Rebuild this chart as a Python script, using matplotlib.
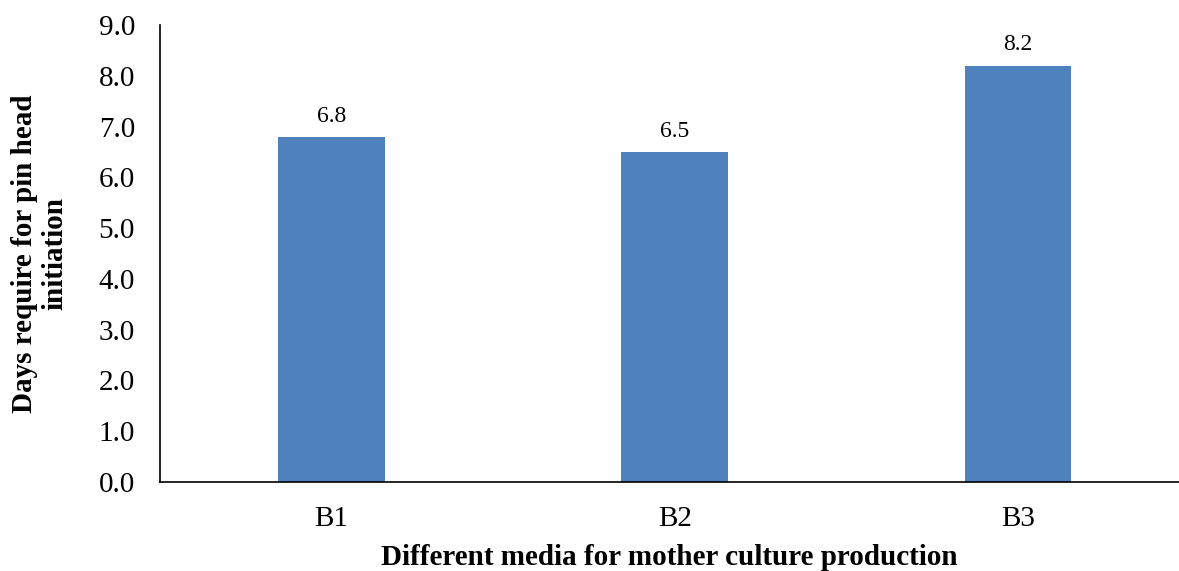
import matplotlib
matplotlib.use("Agg")
import matplotlib.pyplot as plt

categories = ["B1", "B2", "B3"]
values = [6.8, 6.5, 8.2]
value_labels = ["6.8", "6.5", "8.2"]
yticks = [0, 1, 2, 3, 4, 5, 6, 7, 8, 9]

plt.rcParams['font.family'] = ['Liberation Serif', 'DejaVu Serif']

fig = plt.figure(figsize=(11.79, 5.71), dpi=100)
ax = fig.add_axes([160/1179, 1-482/571, 1-160/1179, (482-25)/571])

x = range(len(categories))
bars = ax.bar(x, values, width=0.31, color="#4F81BD", zorder=2)
for xi, v, lab in zip(x, values, value_labels):
    ax.text(xi, v + 0.2, lab, ha="center", va="bottom", fontsize=17)

ax.set_xlim(-0.5, 2.47)
ax.set_ylim(0, 9)
ax.set_yticks(yticks)
ax.set_yticklabels([f"{t:.1f}" for t in yticks])
ax.set_xticks(list(x))
ax.set_xticklabels(categories)
ax.tick_params(axis="both", length=0, labelsize=21)
ax.tick_params(axis="y", pad=18)
ax.tick_params(axis="x", pad=17)

for s in ["top", "right"]:
    ax.spines[s].set_visible(False)
ax.spines["left"].set_linewidth(1.2)
ax.spines["bottom"].set_linewidth(1.2)

ax.set_xlabel("Different media for mother culture production", fontsize=21, fontweight="bold", labelpad=9)
ax.set_ylabel("Days require for pin head\ninitiation", fontsize=21, fontweight="bold", labelpad=22, linespacing=1.15)

fig.savefig("out.png", dpi=100)
